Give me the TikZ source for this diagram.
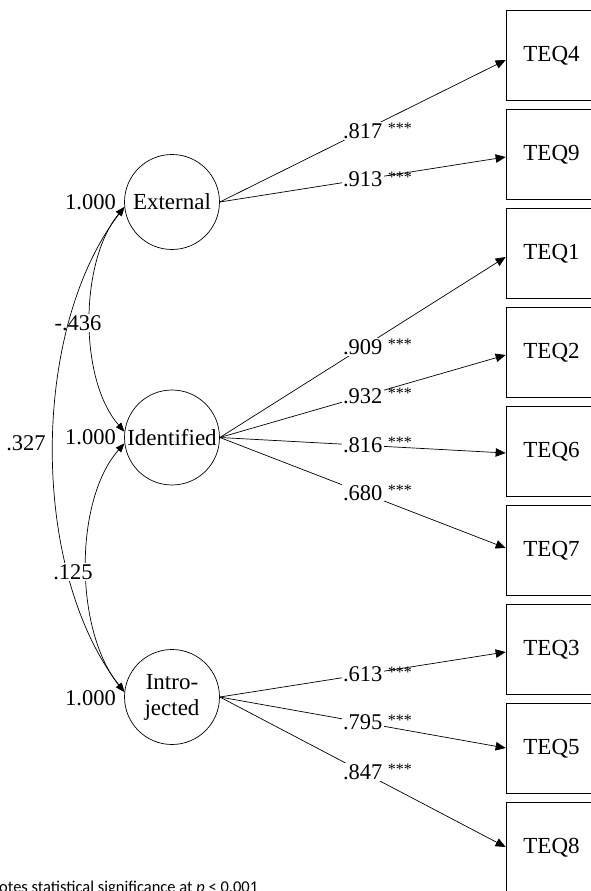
\documentclass[tikz,border=0pt]{standalone}
\usepackage{fontspec}
\setmainfont{Liberation Serif}
\newfontfamily\notefont{Carlito}
\usetikzlibrary{arrows.meta}
\begin{document}
\begin{tikzpicture}[x=1pt,y=-1pt,
  lat/.style={draw, circle, minimum size=95pt, inner sep=0pt, line width=0.7pt,
    align=center, font=\fontsize{23}{26}\selectfont},
  obs/.style={draw, rectangle, minimum width=91pt, minimum height=90pt, line width=0.7pt,
    font=\fontsize{23}{26}\selectfont},
  load/.style={-{Triangle[length=10pt,width=8.5pt]}, line width=0.7pt},
  cov/.style={{Triangle[length=9pt,width=7pt]}-{Triangle[length=9pt,width=7pt]}, line width=0.7pt},
  num/.style={fill=white, inner sep=1.5pt, font=\fontsize{22.5}{24}\selectfont},
  plainnum/.style={inner sep=1pt, font=\fontsize{22.5}{24}\selectfont},
  sigstars/.style={inner sep=0pt, font=\fontsize{16}{17}\selectfont},
]
\useasboundingbox (0,0) rectangle (591,891);
\clip (0,0) rectangle (591,891);

% latent variables
\node[lat] (ext) at (172,202) {External};
\node[lat] (ide) at (172,437.5) {Identified};
\node[lat] (int) at (172,697) {Intro-\\jected};

% observed variables
\node[obs] (t4) at (551.5,55.5) {TEQ4};
\node[obs] (t9) at (551.5,154.5) {TEQ9};
\node[obs] (t1) at (551.5,253.5) {TEQ1};
\node[obs] (t2) at (551.5,352.5) {TEQ2};
\node[obs] (t6) at (551.5,451.5) {TEQ6};
\node[obs] (t7) at (551.5,550.5) {TEQ7};
\node[obs] (t3) at (551.5,649.5) {TEQ3};
\node[obs] (t5) at (551.5,748.5) {TEQ5};
\node[obs] (t8) at (551.5,847.5) {TEQ8};

% loadings
\foreach \src/\dst/\dy/\val/\n in {
  ext/t4/-4.5pt/.817/la, ext/t9/-2.5pt/.913/lb,
  ide/t1/-3.5pt/.909/lc, ide/t2/-2.5pt/.932/ld, ide/t6/-1.5pt/.816/le, ide/t7/2.5pt/.680/lf,
  int/t3/-2.5pt/.613/lg, int/t5/0.5pt/.795/lh, int/t8/0.5pt/.847/li}{
  \draw[load] (\src.east) -- ([yshift=\dy]\dst.west) node[num, pos=0.5] (\n) {\val};
}
\foreach \n in {la,lb,lc,ld,le,lf,lg,lh,li}{
  \node[sigstars, anchor=north west] (s\n) at ([xshift=3.5pt,yshift=-1.5pt]\n.north east) {***};
}

% covariances
\draw[cov] (ext.186) .. controls (79,262) and (79,380) .. (ide.173);
\node[num] (c1) at (78,323) {-.436};
\draw[cov] (ext.186) .. controls (30,330) and (30,570) .. (int.174);
\draw[cov] (ide.187) .. controls (74,500) and (74,630) .. (int.174);
\node[num] (c2) at (73,572) {.125};
\node[plainnum] (c3) at (26,443) {.327};

% variances
\node[plainnum, anchor=east] (v1) at (117,202) {1.000};
\node[plainnum, anchor=east] (v2) at (117,437) {1.000};
\node[plainnum, anchor=east] (v3) at (117,698) {1.000};

% note
\node[anchor=base west, inner sep=0pt, font=\notefont\fontsize{16.5}{18}\selectfont] (note) at (-1,892.5)
  {otes statistical significance at \textit{p} < 0.001};
\end{tikzpicture}
\end{document}
